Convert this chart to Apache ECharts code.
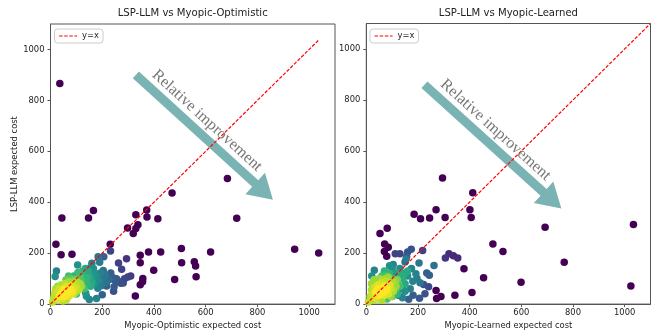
<!DOCTYPE html>
<html><head><meta charset="utf-8">
<script src="https://cdn.jsdelivr.net/npm/echarts@6/dist/echarts.min.js"></script>
<style>html,body{margin:0;padding:0;background:#fff}#c{width:651px;height:335px}</style>
</head><body><div id="c"></div>
<script>
// ---------- data ----------
const titles = ['LSP-LLM vs Myopic-Optimistic', 'LSP-LLM vs Myopic-Learned'];
const xNames = ['Myopic-Optimistic expected cost', 'Myopic-Learned expected cost'];
const yName = 'LSP-LLM expected cost';
const tickValues = [0, 200, 400, 600, 800, 1000];
const legendName = 'y=x';
const annotationText = 'Relative improvement';

// [x, y, colour level 0 (purple) .. 1 (yellow)]
const leftPoints = [
  [36,866,0],[44,338,0],[147,338,0],[166,368,0],[21,235,0],[41,194,0],[83,196,0],[231,235,0],[298,299,0],[330,351,0],
  [338,312,0],[330,297,0],[320,277,0],[372,370,0],[373,342,0],[415,335,0],[470,436,0],[684,493,0],[720,337,0],[944,215,0],
  [1037,201,0],[619,205,0],[506,218,0],[507,162,0],[556,166,0],[561,150,0],[563,107,0],[480,97,0],[426,205,0],[379,205,0],
  [399,133,0],[347,192,0],[347,162,0],[357,101,0],[356,88,0],[347,76,0],[328,32,0],
  [232,209,0.2],[294,178,0.15],[263,161,0.2],[275,137,0.2],[299,106,0.2],[310,110,0.18],[281,83,0.22],[264,89,0.25],
  [244,50,0.25],[250,93,0.28],[217,71,0.3],[200,37,0.3],[206,186,0.3],[240,104,0.3],[255,100,0.28],[233,122,0.3],
  [272,82,0.25],[286,100,0.22],[246,68,0.28],
  [184,186,0.4],[190,164,0.42],[150,18,0.45],[105,154,0.5],[23,130,0.45],[18,108,0.5],[139,31,0.5],[178,22,0.45],
  [192,122,0.45],[200,100,0.4],[212,114,0.4],[172,80,0.5],[183,62,0.45],[166,140,0.5],[160,100,0.55],[204,132,0.4],
  [216,84,0.38],[142,124,0.55],[226,96,0.35],[176,110,0.5],[152,142,0.5],[186,92,0.48],[160,160,0.45],[136,44,0.52],
  [196,72,0.42],[168,124,0.52],[150,86,0.58],
  [130,100,0.65],[140,80,0.65],[120,90,0.7],[110,70,0.75],[150,110,0.6],[100,40,0.7],[90,110,0.65],[70,110,0.7],
  [130,60,0.7],[145,130,0.6],[160,85,0.6],[120,120,0.65],[135,140,0.6],[155,70,0.62],[115,105,0.72],[125,130,0.62],
  [98,96,0.78],[140,104,0.66],[106,124,0.68],[60,96,0.76],[80,100,0.74],
  [8,8,0.9],[15,35,0.9],[20,60,0.88],[25,45,0.92],[30,20,0.95],[35,60,0.93],[40,40,1],[45,22,0.95],[50,55,1],[55,32,1],
  [60,68,0.95],[65,45,1],[70,30,0.96],[75,58,1],[80,72,0.95],[85,48,0.98],[90,60,0.95],[95,80,0.9],[100,66,0.92],
  [105,86,0.88],[110,56,0.9],[115,80,0.86],[120,70,0.85],[28,70,0.85],[42,76,0.88],[55,80,0.9],[62,18,0.9],[48,12,0.88],
  [20,18,0.9],[70,88,0.86],[88,90,0.85],[35,30,1],[58,45,1],[78,38,0.95],[92,42,0.9],[18,48,0.9],[12,22,0.88],[100,50,0.88]
];
const rightPoints = [
  [295,494,0],[412,437,0],[401,370,0],[406,339,0],[305,339,0],[245,338,0],[210,335,0],[185,352,0],[270,370,0],[53,277,0],
  [81,297,0],[71,236,0],[85,223,0],[70,206,0],[79,188,0],[692,301,0],[1034,312,0],[766,164,0],[1024,71,0],[599,86,0],
  [529,206,0],[490,236,0],[454,103,0],[409,45,0],[343,35,0],[289,30,0],[272,22,0],[270,53,0],[378,139,0],
  [306,181,0.15],[320,197,0.12],[337,190,0.12],[354,181,0.12],[112,197,0.2],[130,197,0.2],[160,204,0.25],[174,215,0.25],
  [218,210,0.2],[156,187,0.28],[222,77,0.25],[241,68,0.22],[227,41,0.25],[206,23,0.28],[181,35,0.3],[164,19,0.3],
  [234,122,0.3],[244,113,0.3],[150,165,0.35],
  [31,133,0.45],[21,110,0.5],[104,155,0.45],[154,177,0.42],[204,161,0.4],[262,151,0.38],[192,119,0.45],[124,35,0.45],
  [208,84,0.4],[140,60,0.5],[120,100,0.5],[180,90,0.45],[160,110,0.5],[100,140,0.5],[130,140,0.48],[150,50,0.5],
  [170,60,0.45],[196,100,0.42],[110,120,0.55],[175,140,0.45],[140,25,0.45],[90,150,0.5],
  [130,120,0.62],[120,80,0.65],[150,80,0.6],[140,100,0.62],[110,60,0.7],[100,100,0.68],[90,120,0.65],[160,130,0.6],
  [60,110,0.7],[70,130,0.65],[130,70,0.7],[150,120,0.6],[80,110,0.72],[100,30,0.7],[60,25,0.75],[80,20,0.7],[120,40,0.65],
  [8,8,0.9],[15,30,0.9],[20,55,0.88],[25,40,0.92],[30,65,0.92],[35,25,0.95],[40,50,1],[45,75,0.95],[50,35,1],[55,60,1],
  [60,85,0.92],[65,45,1],[70,70,1],[75,55,1],[80,90,0.9],[85,40,0.95],[90,75,0.95],[95,60,0.92],[100,85,0.88],
  [105,50,0.88],[110,90,0.85],[115,70,0.85],[20,80,0.85],[30,95,0.85],[50,100,0.85],[40,20,0.9],[60,15,0.88],[25,15,0.88],
  [70,35,0.95],[80,60,1],[65,95,0.88],[45,60,1],[55,45,1],[85,105,0.85],[35,45,0.98],[95,30,0.85],[120,95,0.8],[75,100,0.85]
];
const diagLeft = [[0,0],[1037,1037]];
const diagRight = [[0,0],[1100,1100]];
const arrowLeft = [[330,900],[860,410]];   // start, tip (data coords)
const arrowRight = [[225,860],[755,375]];

// ---------- chart ----------
const viridis = ['#440154','#482878','#3e4989','#31688e','#26828e','#1f9e89','#35b779','#6ece58','#b5de2b','#fde725'];
const FONT = 'DejaVu Sans';
const TXT = '#222';
const RED = '#ff0000';
const chart = echarts.init(document.getElementById('c'), null, {renderer: 'canvas'});

function axisX(i) {
  return {
    type: 'value', gridIndex: i, min: 0, max: 1100,
    name: xNames[i], nameLocation: 'middle', nameGap: 16,
    nameTextStyle: {fontFamily: FONT, fontSize: 8.4, color: TXT},
    axisLine: {show: true, lineStyle: {color: '#555', width: 1}},
    axisTick: {show: true, length: 3, customValues: tickValues, lineStyle: {color: '#555'}},
    axisLabel: {customValues: tickValues, formatter: v => String(v), fontFamily: FONT, fontSize: 8.4, color: TXT, margin: 5},
    splitLine: {show: false}
  };
}
function axisY(i) {
  return {
    type: 'value', gridIndex: i, min: 0, max: 1100,
    name: i === 0 ? yName : '', nameLocation: 'middle', nameGap: 31, nameRotate: 90,
    nameTextStyle: {fontFamily: FONT, fontSize: 8.4, color: TXT},
    axisLine: {show: true, lineStyle: {color: '#555', width: 1}},
    axisTick: {show: true, length: 3, customValues: tickValues, lineStyle: {color: '#555'}},
    axisLabel: {customValues: tickValues, formatter: v => String(v), fontFamily: FONT, fontSize: 8.4, color: TXT, margin: 6},
    splitLine: {show: false}
  };
}
const sortByColour = arr => arr.slice().sort((a, b) => a[2] - b[2]);
const lineStyle = {color: RED, width: 1.2, type: [3.5, 1.6]};

chart.setOption({
  animation: false,
  backgroundColor: '#fff',
  title: [
    {text: titles[0], left: 192.7, top: 8, textAlign: 'center', padding: 0,
     textStyle: {fontFamily: FONT, fontSize: 10.1, fontWeight: 'normal', color: TXT}},
    {text: titles[1], left: 508.4, top: 8, textAlign: 'center', padding: 0,
     textStyle: {fontFamily: FONT, fontSize: 10.1, fontWeight: 'normal', color: TXT}}
  ],
  grid: [
    {left: 50.5, top: 24, width: 284.5, height: 283.3, show: true, borderColor: '#555', borderWidth: 1},
    {left: 366.3, top: 23.5, width: 284.2, height: 283.2, show: true, borderColor: '#555', borderWidth: 1}
  ],
  xAxis: [axisX(0), axisX(1)],
  yAxis: [axisY(0), axisY(1)],
  legend: [0, 1].map(i => ({
    data: [legendName], left: i === 0 ? 54.5 : 370, top: 29,
    backgroundColor: '#fff', borderColor: '#ccc', borderWidth: 1, borderRadius: 3,
    padding: [3, 4, 3, 4], itemWidth: 18, itemHeight: 9, selectedMode: false,
    itemStyle: {opacity: 0},
    lineStyle: {color: RED, width: 1.2, type: [3.5, 1.6], opacity: 1},
    textStyle: {fontFamily: FONT, fontSize: 8.4, color: TXT}
  })),
  visualMap: [{type: 'continuous', show: false, dimension: 2, min: 0, max: 1, seriesIndex: [0, 1],
               inRange: {color: viridis}}],
  series: [
    {type: 'scatter', xAxisIndex: 0, yAxisIndex: 0, data: sortByColour(leftPoints), symbolSize: 7.5, z: 2,
     itemStyle: {opacity: 1}},
    {type: 'scatter', xAxisIndex: 1, yAxisIndex: 1, data: sortByColour(rightPoints), symbolSize: 7.5, z: 2,
     itemStyle: {opacity: 1}},
    {name: legendName, type: 'line', xAxisIndex: 0, yAxisIndex: 0, data: diagLeft, symbol: 'none',
     lineStyle: lineStyle, z: 5, silent: true},
    {name: legendName, type: 'line', xAxisIndex: 1, yAxisIndex: 1, data: diagRight, symbol: 'none',
     lineStyle: lineStyle, z: 5, silent: true}
  ]
});

function annotation(gridIndex, pts) {
  const S = chart.convertToPixel({gridIndex}, pts[0]);
  const T = chart.convertToPixel({gridIndex}, pts[1]);
  const dx = T[0] - S[0], dy = T[1] - S[1];
  const L = Math.hypot(dx, dy);
  const d = [dx / L, dy / L];
  const n = [d[1], -d[0]];           // normal toward upper-right
  const w = 4.5, hw = 14.5, hl = 24;
  const B = [T[0] - d[0] * hl, T[1] - d[1] * hl];
  const p = (P, k) => [P[0] + n[0] * k, P[1] + n[1] * k];
  const poly = [p(S, w), p(B, w), p(B, hw), T, p(B, -hw), p(B, -w), p(S, -w)];
  const C = [S[0] + d[0] * L * 0.45 + n[0] * 14, S[1] + d[1] * L * 0.45 + n[1] * 14];
  return [
    {id: 'arrow' + gridIndex, type: 'polygon', shape: {points: poly}, style: {fill: 'rgba(0,110,110,0.52)'}, z: 3, silent: true},
    {id: 'atext' + gridIndex, type: 'text', x: C[0], y: C[1], rotation: -Math.atan2(dy, dx), z: 10, silent: true,
     style: {text: annotationText, font: '16px "Liberation Serif"', fill: '#777',
             align: 'center', verticalAlign: 'middle'}}
  ];
}
chart.setOption({graphic: [...annotation(0, arrowLeft), ...annotation(1, arrowRight)]});
</script></body></html>
